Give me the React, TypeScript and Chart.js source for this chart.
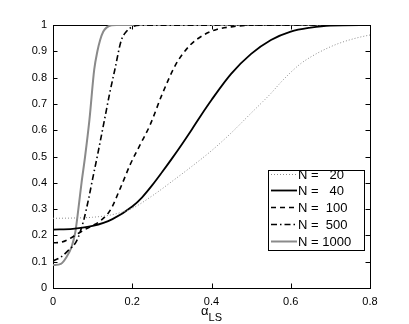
import React, { useEffect, useRef } from "react";
import { Chart, registerables } from "chart.js";

Chart.register(...registerables);

// ---- data ----
const legendLabels = ["N =   20", "N =   40", "N =  100", "N =  500", "N = 1000"];

const n20Alpha = [0, 0.05, 0.1, 0.15, 0.2, 0.25, 0.3, 0.35, 0.4, 0.45, 0.5, 0.55, 0.575, 0.6, 0.625, 0.65, 0.675, 0.7, 0.725, 0.75, 0.775, 0.8];
const n20Values = [0.265, 0.266, 0.269, 0.279, 0.303, 0.35, 0.405, 0.462, 0.522, 0.59, 0.665, 0.74, 0.782, 0.82, 0.853, 0.878, 0.899, 0.917, 0.932, 0.944, 0.954, 0.962];

const n40Alpha = [0, 0.05, 0.1, 0.15, 0.2, 0.225, 0.25, 0.275, 0.3, 0.325, 0.35, 0.375, 0.4, 0.45, 0.5, 0.55, 0.6, 0.65, 0.7, 0.8];
const n40Values = [0.222, 0.225, 0.236, 0.262, 0.31, 0.345, 0.39, 0.44, 0.492, 0.546, 0.602, 0.66, 0.715, 0.815, 0.89, 0.943, 0.975, 0.99, 0.998, 1.0];

const n100Alpha = [0, 0.02, 0.04, 0.06, 0.08, 0.1, 0.12, 0.145, 0.17, 0.195, 0.22, 0.245, 0.275, 0.31, 0.345, 0.38, 0.415, 0.45, 0.5, 0.8];
const n100Values = [0.172, 0.174, 0.186, 0.204, 0.222, 0.237, 0.256, 0.297, 0.38, 0.47, 0.545, 0.62, 0.735, 0.85, 0.922, 0.962, 0.984, 0.993, 0.999, 1.0];

const n500Alpha = [0, 0.02, 0.04, 0.06, 0.077, 0.09, 0.1, 0.113, 0.13, 0.143, 0.156, 0.172, 0.185, 0.2, 0.22, 0.8];
const n500Values = [0.103, 0.118, 0.145, 0.18, 0.255, 0.34, 0.415, 0.51, 0.64, 0.74, 0.83, 0.94, 0.975, 0.993, 0.999, 1.0];

const n1000Alpha = [0, 0.02, 0.035, 0.047, 0.056, 0.064, 0.072, 0.081, 0.092, 0.104, 0.112, 0.119, 0.127, 0.135, 0.148, 0.16, 0.8];
const n1000Values = [0.087, 0.092, 0.12, 0.157, 0.21, 0.3, 0.4, 0.5, 0.64, 0.83, 0.9, 0.943, 0.975, 0.99, 0.999, 1.0, 1.0];

const xTicks = [0, 0.2, 0.4, 0.6, 0.8];
const yTicks = [0, 0.1, 0.2, 0.3, 0.4, 0.5, 0.6, 0.7, 0.8, 0.9, 1];
const xTitleMain = "α";
const xTitleSub = "LS";

const toPoints = (xs: number[], ys: number[]) => xs.map((x, i) => ({ x, y: ys[i] }));

const FONT = "'Liberation Sans', Arial, Helvetica, sans-serif";

const framePlugin = {
  id: "frameTicks",
  beforeDatasetsDraw(chart: any) {
    const { ctx, chartArea: a, scales } = chart;
    ctx.save();
    ctx.strokeStyle = "#000";
    ctx.lineWidth = 1;
    const L = 4.5;
    ctx.beginPath();
    for (const v of xTicks) {
      const px = Math.round(scales.x.getPixelForValue(v)) + 0.5;
      ctx.moveTo(px, a.bottom);
      ctx.lineTo(px, a.bottom - L);
      ctx.moveTo(px, a.top);
      ctx.lineTo(px, a.top + L);
    }
    for (const v of yTicks) {
      const py = Math.round(scales.y.getPixelForValue(v)) + 0.5;
      ctx.moveTo(a.left, py);
      ctx.lineTo(a.left + L, py);
      ctx.moveTo(a.right, py);
      ctx.lineTo(a.right - L, py);
    }
    ctx.stroke();
    ctx.strokeRect(Math.round(a.left) + 0.5, Math.round(a.top) + 0.5, Math.round(a.right - a.left), Math.round(a.bottom - a.top));
    ctx.restore();
  },
  afterDraw(chart: any) {
    const { ctx, chartArea: a } = chart;
    ctx.save();
    // x axis title with subscript
    ctx.fillStyle = "#000";
    ctx.textBaseline = "alphabetic";
    ctx.textAlign = "left";
    ctx.font = `13px ${FONT}`;
    const cx = (a.left + a.right) / 2;
    const wMain = ctx.measureText(xTitleMain).width;
    ctx.font = `11px ${FONT}`;
    const wSub = ctx.measureText(xTitleSub).width;
    const startX = cx - (wMain + wSub) / 2;
    ctx.font = `13px ${FONT}`;
    ctx.fillText(xTitleMain, startX, 315);
    ctx.font = `11px ${FONT}`;
    ctx.fillText(xTitleSub, startX + wMain, 321);

    // legend
    const bx = 268.5, by = 170.5, bw = 96, bh = 80;
    ctx.fillStyle = "#fff";
    ctx.fillRect(bx, by, bw, bh);
    ctx.strokeStyle = "#000";
    ctx.lineWidth = 1;
    ctx.setLineDash([]);
    ctx.strokeRect(bx, by, bw, bh);
    const dsets = chart.data.datasets;
    ctx.font = `13px ${FONT}`;
    ctx.textBaseline = "middle";
    for (let i = 0; i < dsets.length; i++) {
      const d = dsets[i];
      const y = Math.round(by + 3 + i * 16.8) + 0.5;
      ctx.save();
      ctx.strokeStyle = d.borderColor;
      ctx.lineWidth = d.borderWidth;
      ctx.setLineDash(d.borderDash || []);
      ctx.beginPath();
      ctx.moveTo(271, y);
      ctx.lineTo(297, y);
      ctx.stroke();
      ctx.restore();
      ctx.fillStyle = "#000";
      ctx.fillText(legendLabels[i], 298, y + 0.5);
    }
    ctx.restore();
  },
};

export default function App() {
  const ref = useRef<HTMLCanvasElement | null>(null);
  useEffect(() => {
    if (!ref.current) return;
    const common = { pointRadius: 0, pointHoverRadius: 0, fill: false, cubicInterpolationMode: "monotone" as const, showLine: true };
    const chart = new Chart(ref.current, {
      type: "scatter",
      data: {
        datasets: [
          { label: legendLabels[0], data: toPoints(n20Alpha, n20Values), borderColor: "#8c8c8c", borderWidth: 1, borderDash: [1, 2], ...common },
          { label: legendLabels[1], data: toPoints(n40Alpha, n40Values), borderColor: "#000000", borderWidth: 1.8, borderDash: [], ...common },
          { label: legendLabels[2], data: toPoints(n100Alpha, n100Values), borderColor: "#000000", borderWidth: 1.6, borderDash: [5, 4], ...common },
          { label: legendLabels[3], data: toPoints(n500Alpha, n500Values), borderColor: "#000000", borderWidth: 1.6, borderDash: [6, 3, 1.5, 3], ...common },
          { label: legendLabels[4], data: toPoints(n1000Alpha, n1000Values), borderColor: "#8a8a8a", borderWidth: 2, borderDash: [], ...common },
        ] as any,
      },
      options: {
        animation: false,
        responsive: false,
        events: [],
        layout: { padding: { left: 8, top: 25, right: 39, bottom: 0 } },
        plugins: { legend: { display: false }, tooltip: { enabled: false } },
        scales: {
          x: {
            type: "linear",
            min: 0,
            max: 0.8,
            grid: { display: false, drawTicks: false },
            border: { display: false },
            afterBuildTicks: (s: any) => { s.ticks = xTicks.map((v) => ({ value: v })); },
            afterFit: (s: any) => { s.height = 36; },
            ticks: { color: "#000", font: { size: 11, family: FONT }, padding: 7, maxRotation: 0, callback: (v: any) => String(+Number(v).toFixed(2)) },
          },
          y: {
            type: "linear",
            min: 0,
            max: 1,
            grid: { display: false, drawTicks: false },
            border: { display: false },
            afterBuildTicks: (s: any) => { s.ticks = yTicks.map((v) => ({ value: v })); },
            afterFit: (s: any) => { s.width = 45; },
            ticks: { color: "#000", font: { size: 11, family: FONT }, padding: 6, callback: (v: any) => String(+Number(v).toFixed(2)) },
          },
        },
      },
      plugins: [framePlugin],
    });
    return () => chart.destroy();
  }, []);
  return (
    <div style={{ position: "absolute", left: 0, top: 0, width: 409, height: 324, background: "#fff" }}>
      <canvas ref={ref} width={409} height={324} style={{ display: "block" }} />
    </div>
  );
}
